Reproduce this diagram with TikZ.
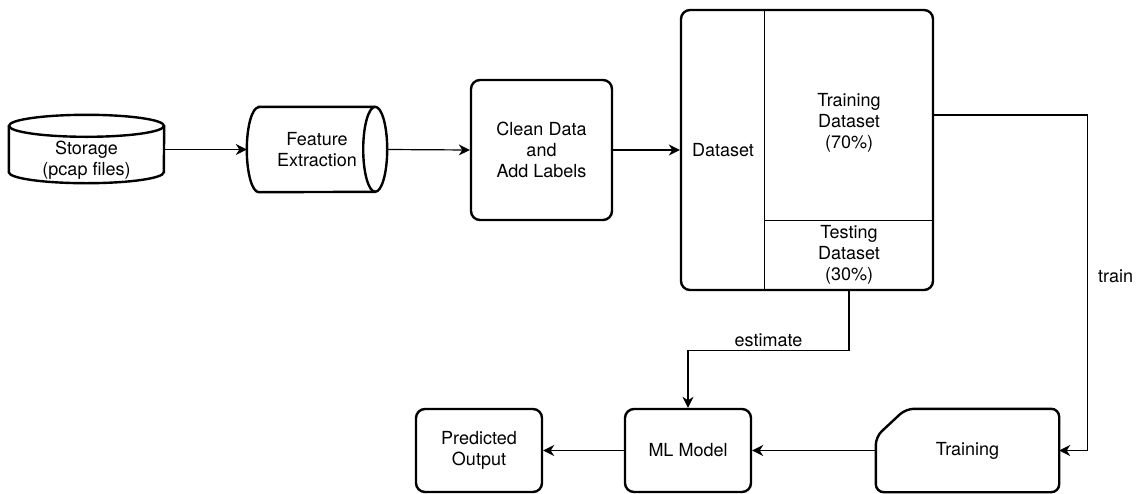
\documentclass[tikz,border=0pt]{standalone}
\usepackage{fontspec}
\setmainfont{TeX Gyre Heros}
\usetikzlibrary{arrows.meta,positioning}

\begin{document}
\begin{tikzpicture}[x=1pt, y=-1pt,
    font=\fontsize{18pt}{21pt}\selectfont,
    box/.style={draw, line width=2.4pt, rounded corners=9pt, align=center},
    plain/.style={align=center, inner sep=0pt},
    edge/.style={line width=2.4pt},
    cell/.style={line width=1.2pt},
    link/.style={-{Stealth[length=11pt, width=11pt, inset=3.5pt]}, line width=1.2pt}]
    \useasboundingbox (0,0) rectangle (1139,493);

    % top row
    \node (storage) at (86.5,160) [plain, minimum width=155pt, minimum height=46pt] {Storage\\(pcap files)};
    \node (feature) at (317,149.5) [plain, minimum width=140pt, minimum height=85pt] {Feature\\Extraction};
    \node (clean) at (541.5,150) [box, minimum width=141pt, minimum height=140pt] {Clean Data\\and\\Add Labels};
    \node (dataset) at (807,150) [box, minimum width=252pt, minimum height=280pt] {};
    \node (dsname) at (723,150) [plain] {Dataset};
    \node (trainset) at (849,123) [plain, minimum width=168pt, minimum height=194pt] {Training\\Dataset\\(70\%)};
    \node (testset) at (849,255) [plain, minimum width=168pt, minimum height=70pt] {Testing\\Dataset\\(30\%)};

    % bottom row
    \node (predicted) at (479,450.5) [box, minimum width=126pt, minimum height=83pt] {Predicted\\Output};
    \node (model) at (688,450.5) [box, minimum width=126pt, minimum height=83pt] {ML Model};
    \node (training) at (967.5,450.5) [plain, minimum width=183pt, minimum height=83pt] {Training};

    % outlines
    \draw[edge] ([yshift=11pt]storage.north) ellipse [x radius=77.5pt, y radius=11pt];
    \draw[edge] ([yshift=11pt]storage.north west) -- ([yshift=11pt]storage.south west)
        arc[start angle=180, end angle=360, x radius=77.5pt, y radius=11pt] -- ([yshift=11pt]storage.north east);
    \draw[edge] ([xshift=12pt]feature.north west) -- ([xshift=-12pt]feature.north east)
        arc[start angle=90, end angle=-90, x radius=12pt, y radius=42.5pt] -- ([xshift=12pt]feature.south west)
        arc[start angle=270, end angle=90, x radius=12pt, y radius=42.5pt] -- cycle;
    \draw[edge] ([xshift=-12pt]feature.north east) arc[start angle=90, end angle=270, x radius=12pt, y radius=42.5pt];
    \draw[cell] (trainset.south west |- dataset.north) -- (trainset.south west |- dataset.south);
    \draw[cell] (trainset.south west) -- (trainset.south east);
    \draw[edge, rounded corners=8pt] ([yshift=-28pt]training.north west) -- ([xshift=30pt]training.north west)
        -- (training.north east) -- (training.south east) -- (training.south west) -- cycle;

    % connectors
    \draw[link] (storage.east |- feature.west) -- (feature.west);
    \draw[link] (feature.east) -- (clean.west);
    \draw[link] (clean.east) -- (dataset.west);
    \draw[link] ([yshift=8pt]trainset.east) -- ++(154,0) |- (training.east) node[pos=0.24, right=7pt] {train};
    \draw[link] (testset.south) -- ++(0,60) -| (model.north) node[pos=0.25, above] {estimate};
    \draw[link] (training.west) -- (model.east);
    \draw[link] (model.west) -- (predicted.east);
\end{tikzpicture}
\end{document}
